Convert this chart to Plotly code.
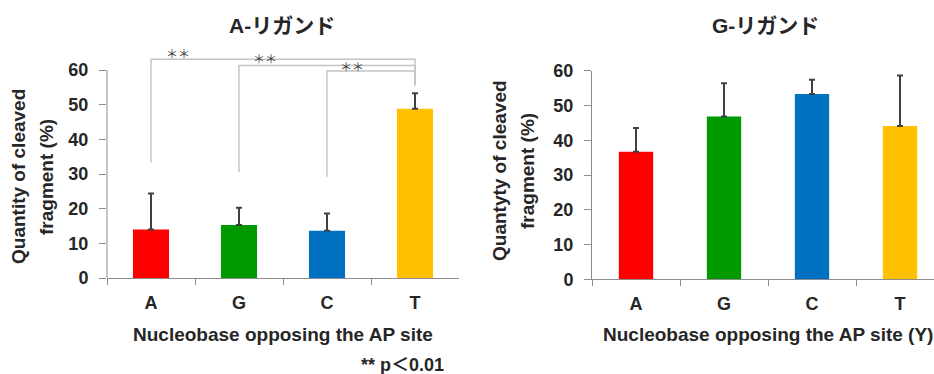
import plotly.graph_objects as go

# ---- data ----
categories = ["A", "G", "C", "T"]
colors = ["#FF0000", "#009900", "#0070C0", "#FFC000"]

a_ligand_values = [14.0, 15.3, 13.6, 48.8]
a_ligand_errors = [10.4, 5.0, 5.0, 4.5]

g_ligand_values = [36.7, 46.8, 53.3, 44.1]
g_ligand_errors = [6.8, 9.6, 4.1, 14.5]

y_ticks = [0, 10, 20, 30, 40, 50, 60]

# significance brackets (A-ligand panel): from category -> "T"
bracket_from = ["A", "G", "C"]
bracket_low = [33.4, 30.6, 29.2]
bracket_level = [63.1, 61.3, 59.7]
bracket_t_low = 55.6
star_x = [0.307, 1.295, 2.284]
star_y = [64.9, 63.2, 60.9]

titles = ["A-リガンド", "G-リガンド"]
y_titles = [["Quantity of cleaved", "fragment (%)"],
            ["Quantyty of cleaved", "fragment (%)"]]
x_titles = ["Nucleobase opposing the AP site",
            "Nucleobase opposing the AP site (Y)"]
note = "** p＜0.01"

FONT = "Liberation Sans, Arial, Noto Sans CJK JP"
TXT = "#262626"
AXIS = "#8c8c8c"

fig = go.Figure()

fig.add_trace(go.Bar(
    x=categories, y=a_ligand_values, marker=dict(color=colors, line=dict(width=0)),
    width=0.41, xaxis="x", yaxis="y",
    error_y=dict(type="data", array=a_ligand_errors, arrayminus=[0] * 4,
                 symmetric=False, color="#404040", thickness=2, width=3),
    showlegend=False))

fig.add_trace(go.Bar(
    x=categories, y=g_ligand_values, marker=dict(color=colors, line=dict(width=0)),
    width=0.39, xaxis="x2", yaxis="y2",
    error_y=dict(type="data", array=g_ligand_errors, arrayminus=[0] * 4,
                 symmetric=False, color="#404040", thickness=2, width=3),
    showlegend=False))

for src, lo, lv in zip(bracket_from, bracket_low, bracket_level):
    fig.add_trace(go.Scatter(
        x=[src, src, "T", "T"], y=[lo, lv, lv, bracket_t_low],
        mode="lines", line=dict(color="#C4C4C4", width=1.5),
        xaxis="x", yaxis="y", showlegend=False, hoverinfo="skip"))

W, H = 934, 374
dx1 = [107 / W, 459 / W]
dx2 = [592 / W, 1.0]
dy1 = [1 - 278 / H, 1 - 52.7 / H]
dy2 = [1 - 279.3 / H, 1 - 70.7 / H]

common_x = dict(type="category", tickson="boundaries", ticks="outside", ticklen=6,
                tickcolor=AXIS, showline=True, linecolor=AXIS, linewidth=1,
                showgrid=False, zeroline=False, ticklabelstandoff=8, automargin=False,
                tickfont=dict(family=FONT, size=18, color=TXT, weight="bold"))
common_y = dict(tickvals=y_ticks, ticks="outside", ticklen=7, tickcolor=AXIS,
                showgrid=False, zeroline=False, ticklabelstandoff=7, automargin=False,
                tickfont=dict(family=FONT, size=18, color=TXT, weight="bold"))

fig.update_layout(
    width=W, height=H,
    margin=dict(l=0, r=0, t=0, b=0, pad=0, autoexpand=False),
    paper_bgcolor="white", plot_bgcolor="white",
    xaxis=dict(domain=dx1, range=[-0.5, 3.5], anchor="y", **common_x),
    yaxis=dict(domain=dy1, range=[0, 65], anchor="x", showline=False, **common_y),
    xaxis2=dict(domain=dx2, range=[-0.5, 3.5 - 10 / 88], anchor="y2", **common_x),
    yaxis2=dict(domain=dy2, range=[0, 60], anchor="x2", showline=True,
                linecolor=AXIS, linewidth=1, **common_y),
    bargap=0.5,
)

# left y-axis line limited to 0..60
fig.add_shape(type="line", xref="x domain", yref="y", x0=0, x1=0, y0=0, y1=60,
              line=dict(color=AXIS, width=1))

ann = []
# chart titles
for t, cx in zip(titles, [282, 765]):
    ann.append(dict(text=t, xref="paper", yref="paper", x=cx / W, y=1 - 25 / H,
                    xanchor="center", yanchor="middle", showarrow=False,
                    font=dict(family=FONT, size=21, color=TXT, weight="bold")))
# y titles (two lines each)
for lines, xs, cy in zip(y_titles, [[18, 46], [499, 527]], [177, 171]):
    for ln, lx in zip(lines, xs):
        ann.append(dict(text=ln, xref="paper", yref="paper", x=lx / W, y=1 - cy / H,
                        xanchor="center", yanchor="middle", textangle=-90,
                        showarrow=False,
                        font=dict(family=FONT, size=19, color=TXT, weight="bold")))
# x titles
for t, cx in zip(x_titles, [283, 768]):
    ann.append(dict(text=t, xref="paper", yref="paper", x=cx / W, y=1 - 334 / H,
                    xanchor="center", yanchor="middle", showarrow=False,
                    font=dict(family=FONT, size=19, color=TXT, weight="bold")))
# significance stars
for sx, sy in zip(star_x, star_y):
    ann.append(dict(text="＊＊", xref="x", yref="y", x=sx, y=sy,
                    xanchor="center", yanchor="middle", showarrow=False,
                    font=dict(family="Noto Sans CJK JP", size=12, color="#3a3a3a")))
# note
ann.append(dict(text=note, xref="paper", yref="paper", x=402 / W, y=1 - 365 / H,
                xanchor="center", yanchor="middle", showarrow=False,
                font=dict(family=FONT, size=18, color=TXT, weight="bold")))

fig.update_layout(annotations=ann)

fig.write_html("out.html")
